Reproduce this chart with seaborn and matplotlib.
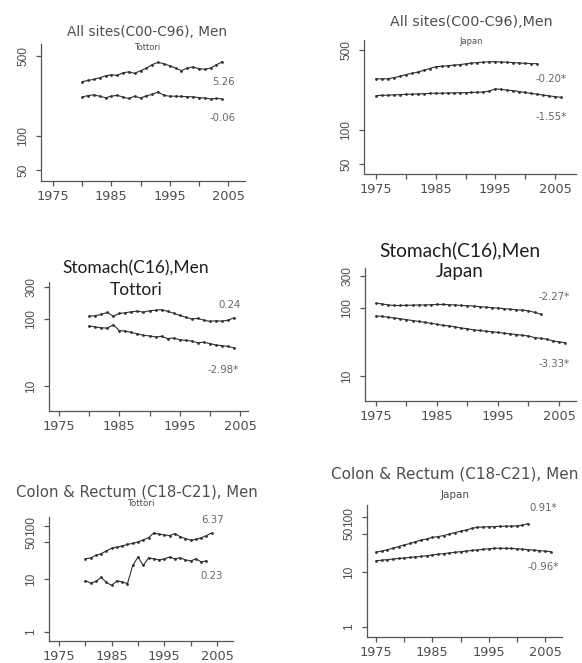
import numpy as np
import pandas as pd
import matplotlib
matplotlib.use("Agg")
import matplotlib.pyplot as plt
import seaborn as sns
from matplotlib.ticker import NullLocator

# ---- data (age-adjusted rates, log scale) ----
years_tottori = list(range(1980, 2005))
years_japan_inc = list(range(1975, 2003))
years_japan_mort = list(range(1975, 2007))

# All sites, men
all_tottori_inc = [298, 305, 312, 322, 335, 342, 338, 356, 363, 352, 372, 390, 420,
                   440, 428, 410, 392, 372, 392, 400, 388, 382, 392, 418, 445]
all_tottori_mort = [218, 225, 228, 222, 215, 222, 226, 218, 212, 222, 214, 224, 230,
                    242, 226, 222, 222, 221, 220, 219, 216, 214, 210, 212, 210]
all_japan_inc = [280, 279, 280, 286, 294, 304, 312, 320, 332, 344, 357, 360, 364, 368,
                 372, 378, 384, 388, 391, 394, 395, 392, 390, 388, 385, 382, 380, 379]
all_japan_mort = [199, 200, 201, 202, 203, 204, 205, 206, 207, 208, 209, 209, 210, 210,
                  211, 211, 212, 213, 214, 218, 228, 226, 222, 220, 216, 212, 208, 205,
                  201, 198, 195, 192]

# Stomach, men
sto_tottori_inc = [110, 112, 117, 125, 110, 121, 124, 128, 131, 126, 133, 135, 138,
                   130, 122, 113, 106, 100, 102, 96, 92, 94, 93, 96, 104]
sto_tottori_mort = [79, 76, 74, 73, 82, 67, 66, 63, 60, 57, 56, 54, 55, 51, 52, 49,
                    48, 47, 44, 45, 43, 41, 40, 39, 37]
sto_japan_inc = [119, 116, 112, 110, 110, 111, 111, 112, 112, 113, 114, 114, 113, 112,
                 110, 109, 108, 106, 104, 102, 101, 99, 97, 95, 94, 92, 87, 82]
sto_japan_mort = [77, 76, 74, 72, 70, 68, 66, 64, 62, 60, 58, 56, 55, 53, 51, 50, 48,
                  47, 46, 45, 44, 43, 42, 41, 40, 39, 37, 36, 35, 33, 32, 31]

# Colon & rectum, men
col_tottori_inc = [24, 25, 28, 30, 34, 38, 40, 42, 45, 47, 50, 55, 60, 74, 70, 68, 66,
                   72, 63, 58, 54, 56, 60, 66, 74]
col_tottori_mort = [9.3, 8.4, 9.0, 10.8, 8.6, 7.6, 9.2, 8.8, 8.2, 18, 26, 18, 25, 24,
                    23, 24, 26, 24, 25, 23, 22, 24, 21, 22]
col_japan_inc = [23, 24, 25.5, 27, 29, 31, 33, 35.5, 38, 40, 42.5, 44, 46, 49, 52, 55,
                 58, 62, 65, 66, 66.5, 67, 67.5, 68, 68.5, 69, 71, 76]
col_japan_mort = [16, 16.4, 16.8, 17.2, 17.6, 18, 18.4, 18.8, 19.2, 19.8, 20.4, 21,
                  21.6, 22.2, 22.8, 23.4, 24, 24.6, 25.2, 25.8, 26.4, 27, 27, 27, 26.8,
                  26.5, 26, 25.5, 25, 24.5, 24, 23.4]

trend_labels = [("5.26", "-0.06"), ("-0.20*", "-1.55*"),
                ("0.24", "-2.98*"), ("-2.27*", "-3.33*"),
                ("6.37", "0.23"), ("0.91*", "-0.96*")]

sns.set_theme(style="ticks")
plt.rcParams['font.family'] = ['DejaVu Sans']

W, H = 582, 663
fig = plt.figure(figsize=(W / 100, H / 100), dpi=100)
GREY = "#4e4e4e"
LINE = "#303030"


def make_panel(rect, xref, yref, series, yticks):
    l, t, r, b = rect
    ax = fig.add_axes([l / W, 1 - b / H, (r - l) / W, (b - t) / H])
    for yrs, vals in series:
        d = pd.DataFrame({"year": yrs, "rate": vals})
        sns.lineplot(data=d, x="year", y="rate", ax=ax, color=LINE, lw=0.8,
                     marker="o", markersize=2.0, markeredgewidth=0)
    ax.set_yscale("log")
    (x1, px1), (x2, px2) = xref
    k = (x2 - x1) / (px2 - px1)
    ax.set_xlim(x1 + (l - px1) * k, x1 + (r - px1) * k)
    (v1, py1), (v2, py2) = yref
    dl = (np.log10(v1) - np.log10(v2)) / (py1 - py2)
    ax.set_ylim(10 ** (np.log10(v1) + (b - py1) * dl),
                10 ** (np.log10(v1) + (t - py1) * dl))
    ax.set_xticks(range(1975, 2006, 5))
    ax.set_xticklabels(["1975", "", "1985", "", "1995", "", "2005"],
                       fontsize=9.3)
    ax.set_yticks(yticks)
    ax.set_yticklabels([str(v) for v in yticks], rotation=90, va="center",
                       family="Liberation Sans", fontsize=8.6)
    ax.yaxis.set_minor_locator(NullLocator())
    ax.xaxis.set_minor_locator(NullLocator())
    ax.set_xlabel("")
    ax.set_ylabel("")
    ax.patch.set_alpha(0)
    for s in ["top", "right"]:
        ax.spines[s].set_visible(False)
    for s in ["left", "bottom"]:
        ax.spines[s].set_color("#555555")
        ax.spines[s].set_linewidth(0.9)
    ax.tick_params(axis="both", length=3.5, width=0.9, color="#555555",
                   labelcolor=GREY)
    ax.tick_params(axis="x", pad=3)
    ax.tick_params(axis="y", pad=5)
    return ax


def ftext(x, y, s, **kw):
    fig.text(x / W, 1 - y / H, s, ha="center", va="center", **kw)


# All sites
make_panel((41, 44, 245, 181), ((1975, 53), (2005, 228)), ((500, 56), (50, 170)),
           [(years_tottori, all_tottori_inc), (years_tottori, all_tottori_mort)],
           [50, 100, 500])
make_panel((364, 40, 576, 174), ((1975, 376), (2005, 555)), ((500, 50), (50, 164)),
           [(years_japan_inc, all_japan_inc), (years_japan_mort, all_japan_mort)],
           [50, 100, 500])
# Stomach
make_panel((49, 282, 248, 411), ((1975, 59), (2005, 240)), ((300, 287), (10, 386)),
           [(years_tottori, sto_tottori_inc), (years_tottori, sto_tottori_mort)],
           [10, 100, 300])
make_panel((365, 268, 576, 401), ((1975, 376), (2005, 559)), ((300, 276), (10, 376)),
           [(years_japan_inc, sto_japan_inc), (years_japan_mort, sto_japan_mort)],
           [10, 100, 300])
# Colon & rectum
make_panel((49, 517, 233, 641), ((1975, 59), (2005, 217)), ((100, 526), (1, 632)),
           [(years_tottori, col_tottori_inc), (years_tottori[:24], col_tottori_mort)],
           [1, 10, 50, 100])
make_panel((367, 505, 562, 637), ((1975, 376), (2005, 545)), ((100, 517), (1, 627)),
           [(years_japan_inc, col_japan_inc), (years_japan_mort, col_japan_mort)],
           [1, 10, 50, 100])

# titles
ftext(147, 32, "All sites(C00-C96), Men", fontsize=9.8, color=GREY)
ftext(147, 48, "Tottori", fontsize=6, color=GREY)
ftext(471, 22, "All sites(C00-C96),Men", fontsize=10.3, color=GREY)
ftext(471, 41, "Japan", fontsize=6, color=GREY)
ftext(136, 268, "Stomach(C16),Men", fontsize=12.5, color="#1e1e1e", family="Lato")
ftext(136, 290, "Tottori", fontsize=12.5, color="#1e1e1e", family="Lato")
ftext(460, 250, "Stomach(C16),Men", fontsize=13.8, color="#1e1e1e", family="Lato")
ftext(460, 272, "Japan", fontsize=13.5, color="#1e1e1e", family="Lato")
ftext(137, 492, "Colon & Rectum (C18-C21), Men", fontsize=10.7, color=GREY)
ftext(141, 504, "Tottori", fontsize=6.3, color=GREY)
ftext(455, 474, "Colon & Rectum (C18-C21), Men", fontsize=11, color=GREY)
ftext(455, 495, "Japan", fontsize=7.5, color=GREY)

# annual percent change labels
label_pos = [((223, 82), (223, 118)), ((551, 79), (551, 117)),
             ((230, 305), (223, 370)), ((554, 297), (554, 364)),
             ((213, 520), (212, 576)), ((543, 508), (543, 567))]
for (up, lo), ((ux, uy), (lx, ly)) in zip(trend_labels, label_pos):
    ftext(ux, uy, up, fontsize=7.3, color="#666666")
    ftext(lx, ly, lo, fontsize=7.3, color="#666666")

fig.savefig("out.png", dpi=100, facecolor="white")
